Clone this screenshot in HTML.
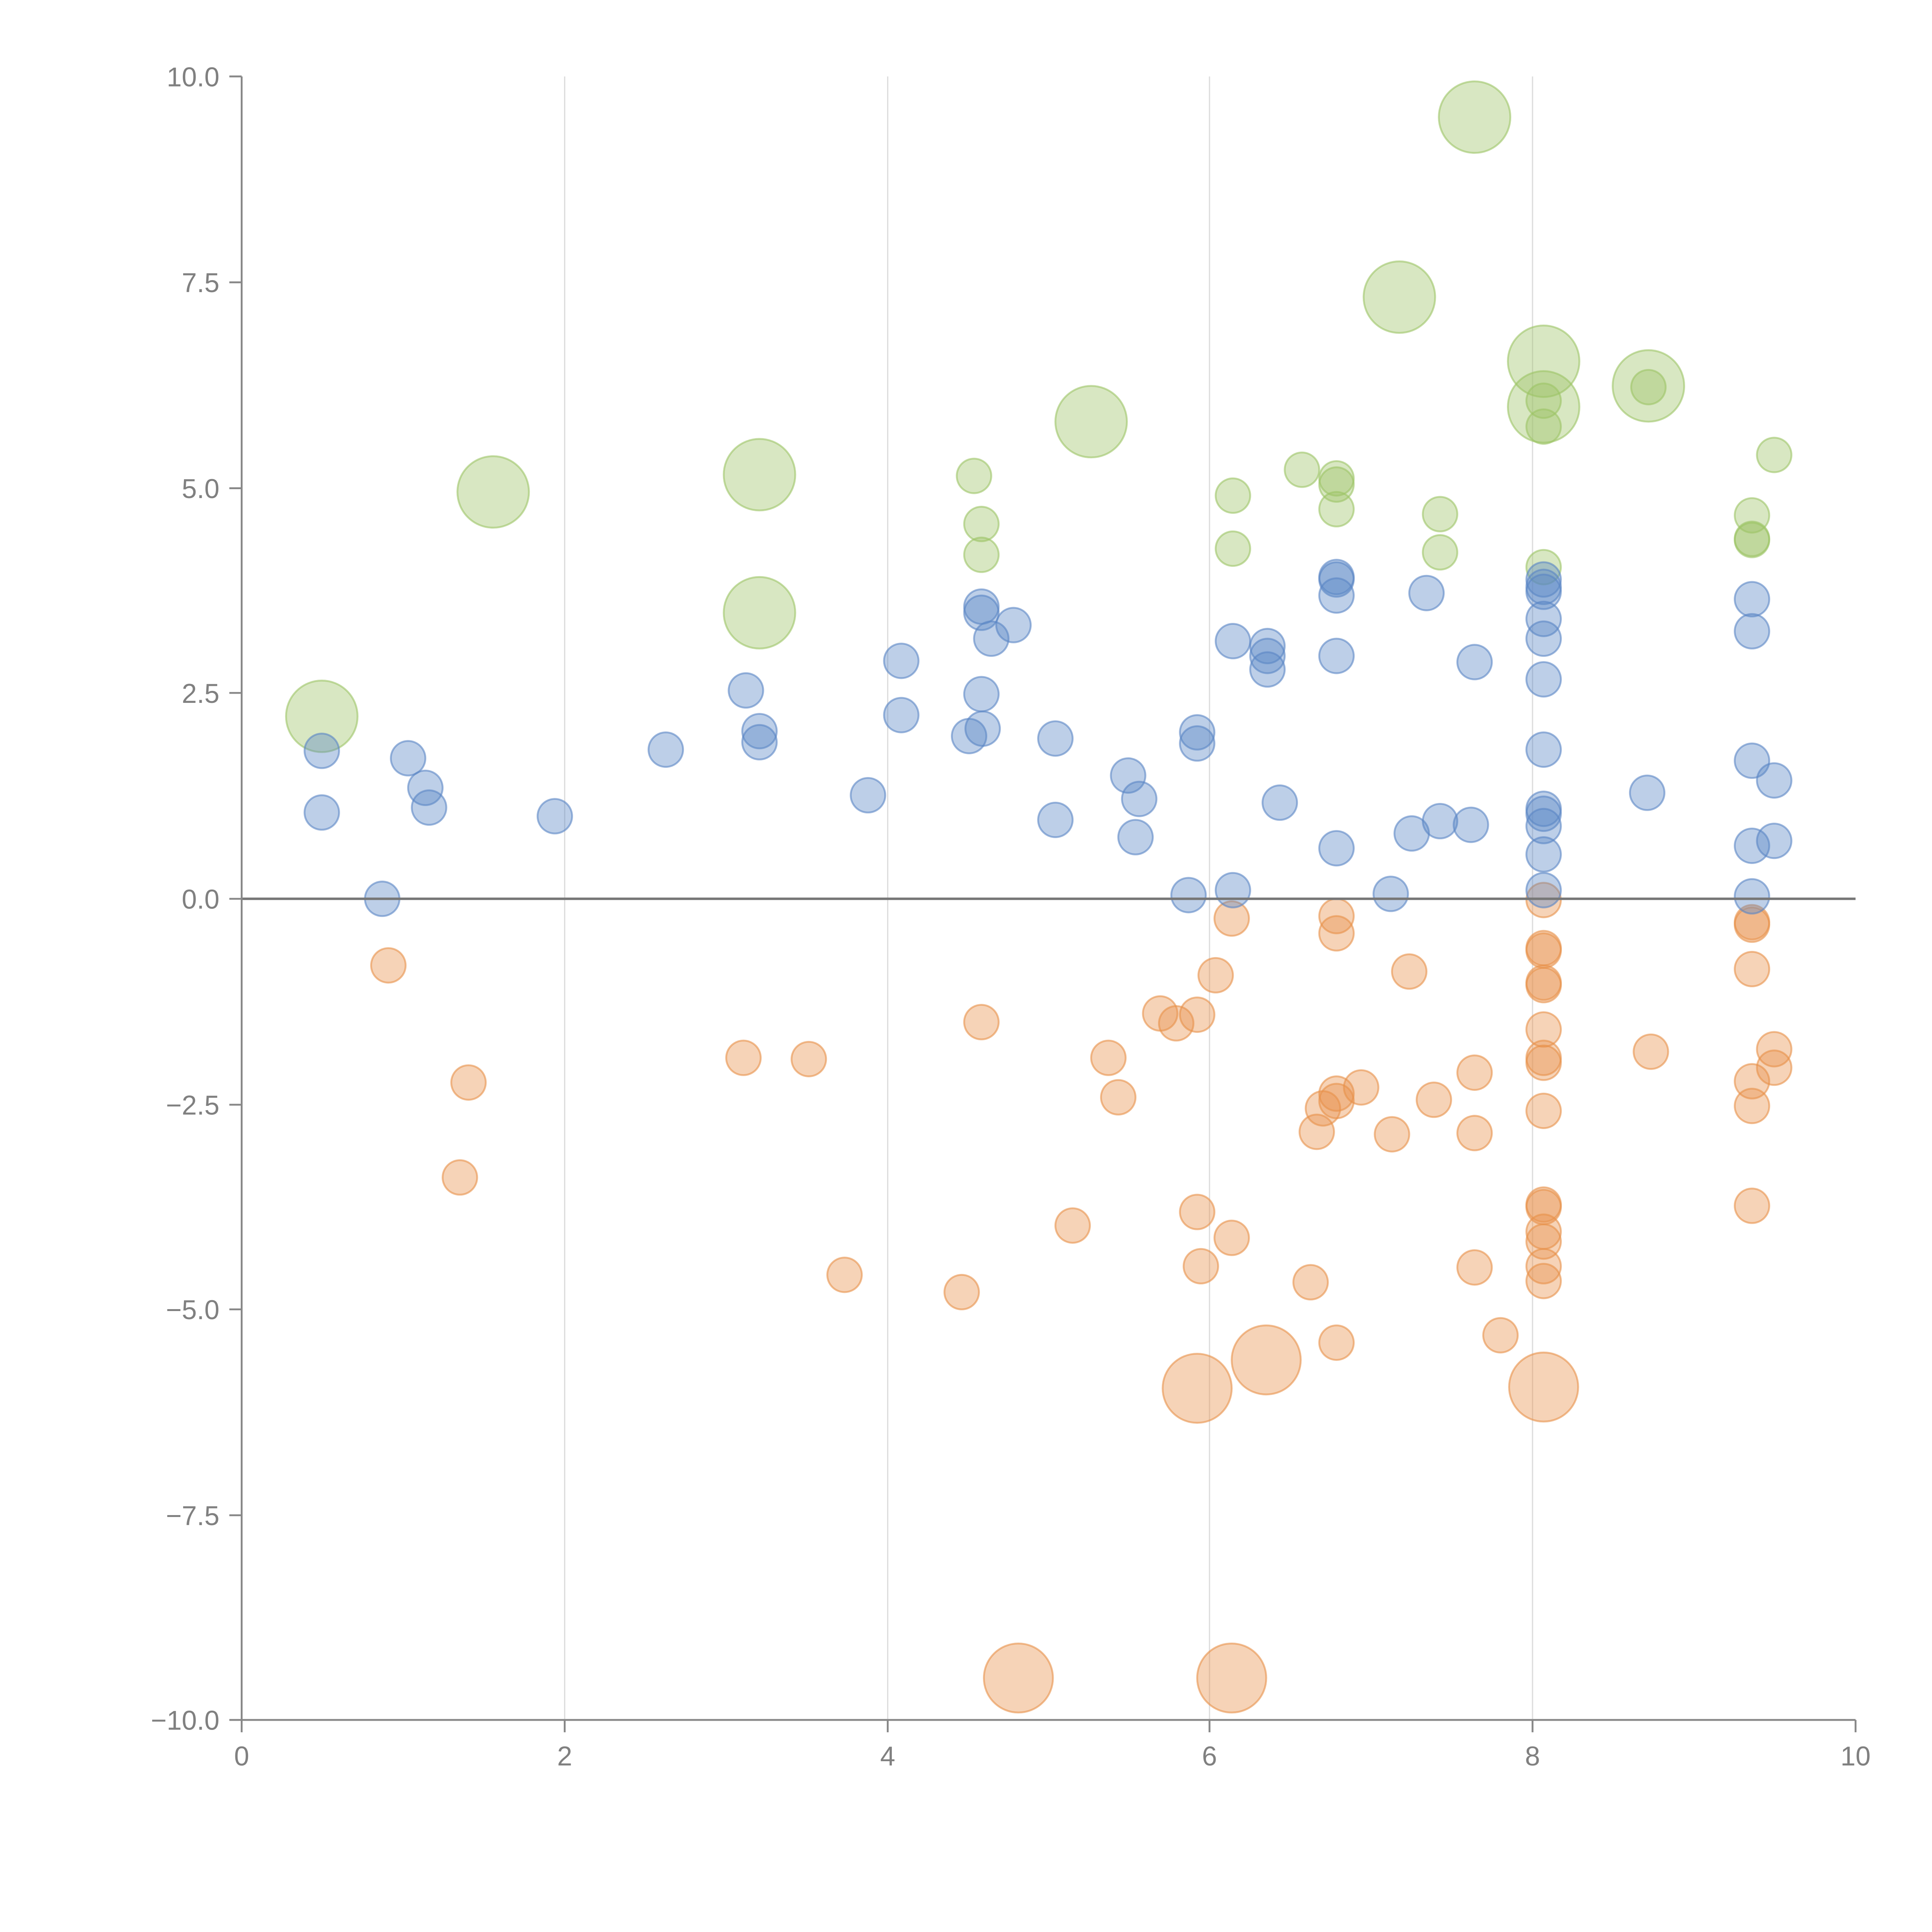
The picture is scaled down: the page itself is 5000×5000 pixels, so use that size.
<!DOCTYPE html>
<html><head><style>html,body{margin:0;padding:0;background:#fff}svg{display:block}</style></head><body>
<svg width="5000" height="5000" viewBox="0 0 1567 1567" xmlns="http://www.w3.org/2000/svg" font-family="Liberation Sans, sans-serif">
<rect width="1567" height="1567" fill="#fff"/>
<g stroke="#dcdcdc" stroke-width="1">
<line x1="458" y1="62" x2="458" y2="1395"/><line x1="720" y1="62" x2="720" y2="1395"/><line x1="981" y1="62" x2="981" y2="1395"/><line x1="1243" y1="62" x2="1243" y2="1395"/>
</g>
<g id="pts"></g>
<line x1="196" y1="729" x2="1505" y2="729" stroke="#777" stroke-width="2"/>
<g stroke="#888" stroke-width="1.5" fill="none">
<path d="M196 62 V1395 H1505"/>
<path d="M186 62H196M186 229H196M186 396H196M186 562H196M186 729H196M186 896H196M186 1062H196M186 1229H196M186 1395H196"/>
<path d="M196 1395V1405M458 1395V1405M720 1395V1405M981 1395V1405M1243 1395V1405M1505 1395V1405"/>
</g>
<g fill="#808080" font-size="22" text-anchor="end">
<text x="178" y="70">10.0</text><text x="178" y="237">7.5</text><text x="178" y="404">5.0</text><text x="178" y="570">2.5</text><text x="178" y="737">0.0</text><text x="178" y="904">−2.5</text><text x="178" y="1070">−5.0</text><text x="178" y="1237">−7.5</text><text x="178" y="1403">−10.0</text>
</g>
<g fill="#808080" font-size="22" text-anchor="middle">
<text x="196" y="1432">0</text><text x="458" y="1432">2</text><text x="720" y="1432">4</text><text x="981" y="1432">6</text><text x="1243" y="1432">8</text><text x="1505" y="1432">10</text>
</g>
</svg>
<script>
var B=[[261,609],[261,659],[310,729],[331,615],[345,639],[348,655],[450,662],[540,608],[605,560],[616,593],[616,602],[704,645],[731,536],[731,580],[786,597],[796,492],[796,497],[796,563],[797,591],[804,518],[822,507],[856,599],[856,665],[915,629],[924,648],[921,679],[964,726],[971,594],[971,603],[1000,520],[1000,722],[1028,524],[1028,532],[1028,543],[1038,651],[1084,468],[1084,470],[1084,483],[1084,532],[1084,688],[1128,725],[1145,676],[1157,481],[1168,666],[1193,669],[1196,537],[1252,470],[1252,476],[1252,480],[1252,502],[1252,518],[1252,551],[1252,608],[1252,656],[1252,660],[1252,670],[1252,693],[1252,722],[1336,643],[1421,486],[1421,512],[1421,617],[1421,686],[1421,727],[1439,633],[1439,682]];
var O=[[315,783],[380,878],[373,955],[603,858],[656,859],[685,1034],[780,1048],[796,829],[870,994],[899,858],[907,890],[941,822],[954,830],[971,823],[986,791],[971,983],[974,1027],[999,745],[999,1004],[1063,1040],[1068,918],[1073,899],[1084,743],[1084,757],[1084,887],[1084,893],[1084,1089],[1104,882],[1129,920],[1143,788],[1163,892],[1196,870],[1196,919],[1196,1028],[1217,1083],[1252,730],[1252,769],[1252,771],[1252,797],[1252,799],[1252,835],[1252,858],[1252,862],[1252,901],[1252,977],[1252,979],[1252,999],[1252,1007],[1252,1027],[1252,1039],[1339,853],[1421,748],[1421,750],[1421,786],[1421,877],[1421,897],[1421,978],[1439,851],[1439,866]];
var OB=[[971,1126],[1027,1103],[1252,1125],[826,1361],[999,1361]];
var GB=[[261,581],[400,399],[616,385],[616,497],[885,342],[1135,241],[1196,95],[1252,293],[1252,330],[1337,313]];
var G=[[790,386],[796,425],[796,450],[1000,402],[1000,445],[1056,381],[1084,388],[1084,393],[1084,413],[1168,417],[1168,448],[1252,325],[1252,346],[1252,460],[1337,314],[1421,418],[1421,437],[1421,438],[1439,369]];
var s='';
function add(a,r,c){a.forEach(function(p){s+='<circle cx="'+p[0]+'" cy="'+p[1]+'" r="'+r+'" fill="'+c+'" fill-opacity="0.4" stroke="'+c+'" stroke-opacity="0.6" stroke-width="1.5"/>';});}
add(GB,29,'#9dc466');add(G,14,'#9dc466');add(OB,28,'#e8914a');add(O,14,'#e8914a');add(B,14,'#5a86c5');
document.getElementById('pts').innerHTML=s;
</script>
</body></html>
